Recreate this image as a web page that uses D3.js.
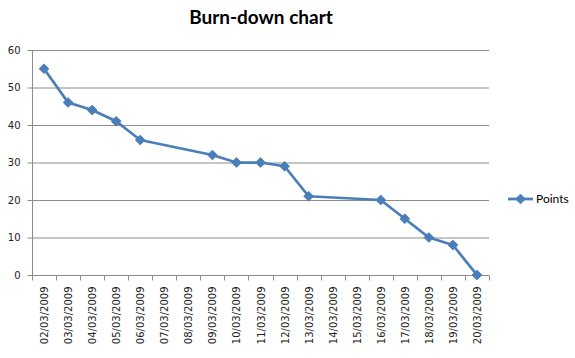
<!DOCTYPE html>
<html><head><meta charset="utf-8">
<script src="https://cdn.jsdelivr.net/npm/d3@7"></script>
<style>body{margin:0;background:#fff}svg{display:block}</style>
</head><body>
<svg id="c" width="575" height="358"></svg>
<script>
const dates = ["02/03/2009","03/03/2009","04/03/2009","05/03/2009","06/03/2009","07/03/2009","08/03/2009","09/03/2009","10/03/2009","11/03/2009","12/03/2009","13/03/2009","14/03/2009","15/03/2009","16/03/2009","17/03/2009","18/03/2009","19/03/2009","20/03/2009"];
const points = [55,46,44,41,36,null,null,32,30,30,29,21,null,null,20,15,10,8,0];
const yTicks = [0,10,20,30,40,50,60];
const seriesName = "Points";
const title = "Burn-down chart";

(function () {
const svg = d3.select("#c");
const pL = 32, pR = 489, pT = 50, pB = 275;
const x = d3.scaleBand().domain(dates).range([pL, pR]);
const y = d3.scaleLinear().domain([0, 60]).range([pB, pT]);
const blue = "#4a7ebb", grid = "#8c8c8c";

svg.append("text").attr("x", 261).attr("y", 24).attr("text-anchor", "middle")
  .attr("font-family", "Lato, 'Open Sans', sans-serif").attr("font-weight", "bold")
  .attr("font-size", 19).attr("fill", "#000").text(title);

// gridlines
svg.append("g").selectAll("line").data(yTicks.filter(d => d > 0)).join("line")
  .attr("x1", pL).attr("x2", pR).attr("y1", d => y(d) + 0.5).attr("y2", d => y(d) + 0.5)
  .attr("stroke", grid).attr("stroke-width", 1);

// y axis
const ya = svg.append("g").attr("transform", `translate(${pL + 0.5},0)`)
  .call(d3.axisLeft(y).tickValues(yTicks).tickSize(5).tickPadding(7));
ya.select(".domain").attr("stroke", grid).attr("d", `M0,${pT}V${pB}`);
ya.selectAll(".tick line").attr("stroke", grid);
ya.selectAll(".tick").attr("transform", d => `translate(0,${y(d) + 0.5})`);
ya.selectAll("text").attr("font-family", "'DejaVu Sans', Verdana, sans-serif").attr("font-size", 10).attr("fill", "#222");

// x axis
const xa = svg.append("g").attr("transform", `translate(0,${pB + 0.5})`);
xa.append("line").attr("x1", pL).attr("x2", pR).attr("stroke", grid);
xa.selectAll(".tk").data(d3.range(dates.length + 1)).join("line").attr("class", "tk")
  .attr("x1", i => Math.round(pL + i * x.step()) + 0.5).attr("x2", i => Math.round(pL + i * x.step()) + 0.5)
  .attr("y1", 0).attr("y2", 5).attr("stroke", grid);
xa.selectAll(".lb").data(dates).join("text").attr("class", "lb")
  .attr("transform", d => `translate(${x(d) + x.bandwidth() / 2 + 4},11) rotate(-90)`)
  .attr("text-anchor", "end")
  .attr("font-family", "'DejaVu Sans', Verdana, sans-serif").attr("font-size", 10).attr("fill", "#222")
  .text(d => d);

// line
const data = dates.map((d, i) => ({ d, v: points[i] })).filter(p => p.v !== null);
const cx = d => x(d) + x.bandwidth() / 2;
svg.append("path").datum(data)
  .attr("d", d3.line().x(p => cx(p.d)).y(p => y(p.v)))
  .attr("fill", "none").attr("stroke", blue).attr("stroke-width", 2.75).attr("stroke-linejoin", "round");

const diamond = d3.symbol().type(d3.symbolDiamond2).size(60);
svg.append("g").selectAll("path").data(data).join("path")
  .attr("transform", p => `translate(${cx(p.d)},${y(p.v)})`)
  .attr("d", diamond).attr("fill", blue).attr("stroke", blue);

// legend
const lg = svg.append("g").attr("transform", "translate(508,199)");
lg.append("line").attr("x1", 0).attr("x2", 25).attr("stroke", blue).attr("stroke-width", 2.75);
lg.append("path").attr("transform", "translate(12.5,0)").attr("d", diamond).attr("fill", blue).attr("stroke", blue);
lg.append("text").attr("x", 28).attr("y", 4).attr("font-family", "Lato, 'Open Sans', sans-serif")
  .attr("font-size", 12).attr("fill", "#000").text(seriesName);
})();
</script>
</body></html>
